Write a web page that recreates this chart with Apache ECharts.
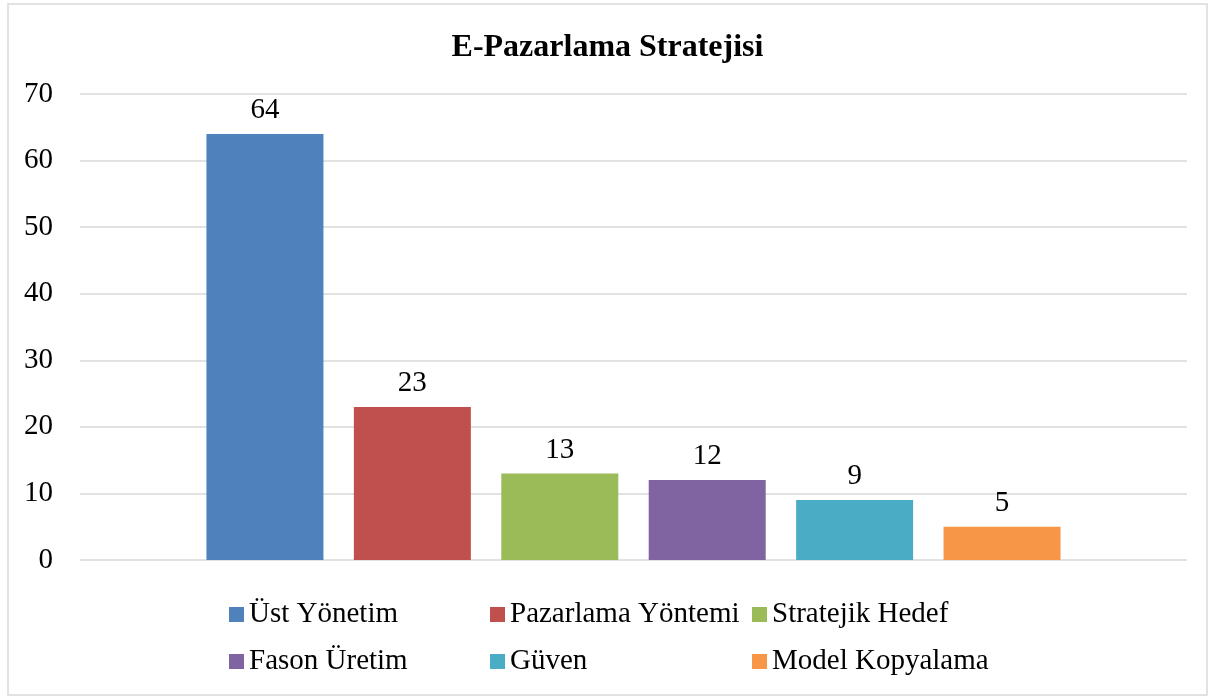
<!DOCTYPE html>
<html>
<head>
<meta charset="utf-8">
<script src="https://cdn.jsdelivr.net/npm/echarts@6/dist/echarts.min.js"></script>
<style>
    html, body { margin: 0; padding: 0; background: #fff; }
    #chart { width: 1215px; height: 697px; }
</style>
</head>
<body>
<div id="chart"></div>
<script>
// values
var seriesNames = ['Üst Yönetim', 'Pazarlama Yöntemi', 'Stratejik Hedef', 'Fason Üretim', 'Güven', 'Model Kopyalama'];
var seriesValues = [64, 23, 13, 12, 9, 5];
var seriesColors = ['#4F81BD', '#C0504D', '#9BBB59', '#8064A2', '#4BACC6', '#F79646'];
var yTicks = [0, 10, 20, 30, 40, 50, 60, 70];

var font = '"Liberation Serif", "Times New Roman", serif';

// legend slots: 3 columns x 2 rows, like the original
var legendLeft = [229, 490, 752];
var legendTop = [600, 647];

var chart = echarts.init(document.getElementById('chart'));

chart.setOption({
    animation: false,
    backgroundColor: '#fff',
    title: {
        text: 'E-Pazarlama Stratejisi',
        left: 'center',
        top: 27,
        textStyle: { fontFamily: font, fontSize: 32, fontWeight: 'bold', color: '#000' }
    },
    graphic: [{
        type: 'rect',
        shape: { x: 8, y: 4, width: 1199, height: 691 },
        style: { fill: 'none', stroke: '#d9d9d9', lineWidth: 1.5 },
        silent: true
    }],
    legend: seriesNames.map(function (name, i) {
        return {
            data: [name],
            left: legendLeft[i % 3],
            top: legendTop[Math.floor(i / 3)],
            padding: 0,
            itemWidth: 15,
            itemHeight: 15,
            icon: 'rect',
            textStyle: { fontFamily: font, fontSize: 29, color: '#000' }
        };
    }),
    grid: { left: 80, right: 28, top: 94, bottom: 137, containLabel: false },
    xAxis: {
        type: 'category',
        data: [''],
        axisLine: { show: false },
        axisTick: { show: false },
        axisLabel: { show: false }
    },
    yAxis: {
        type: 'value',
        min: yTicks[0],
        max: yTicks[yTicks.length - 1],
        interval: 10,
        axisLine: { show: false },
        axisTick: { show: false },
        axisLabel: { fontFamily: font, fontSize: 29, color: '#000', margin: 27 },
        splitLine: { lineStyle: { color: '#d9d9d9', width: 1.5 } }
    },
    series: seriesNames.map(function (name, i) {
        return {
            name: name,
            type: 'bar',
            data: [seriesValues[i]],
            barWidth: 117,
            barGap: '26%',
            itemStyle: { color: seriesColors[i] },
            label: {
                show: true,
                position: 'top',
                distance: 9,
                fontFamily: font,
                fontSize: 29,
                color: '#000'
            }
        };
    })
});
</script>
</body>
</html>
